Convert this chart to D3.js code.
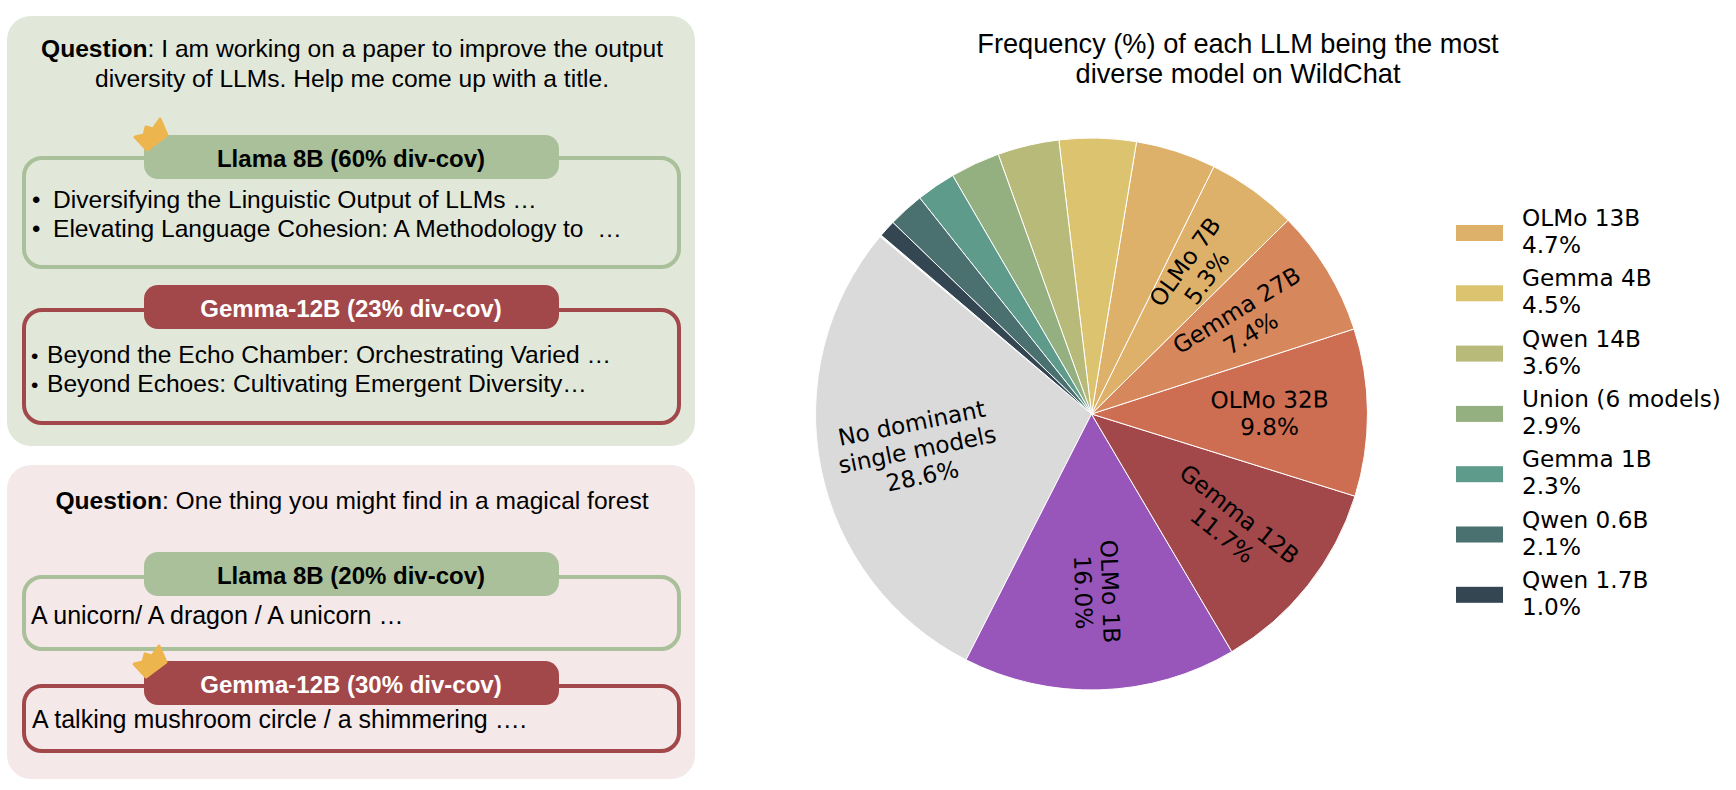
<!DOCTYPE html>
<html><head><meta charset="utf-8">
<script src="https://cdn.jsdelivr.net/npm/d3@7"></script>
<style>html,body{margin:0;padding:0;background:#fff}svg{display:block}
text{white-space:pre}</style></head><body><svg id="c" width="1736" height="790"></svg>
<script>
const categories=["No dominant\nsingle models","OLMo 1B","Gemma 12B","OLMo 32B","Gemma 27B","OLMo 7B","OLMo 13B","Gemma 4B","Qwen 14B","Union (6 models)","Gemma 1B","Qwen 0.6B","Qwen 1.7B"];
const values=[28.6,16.0,11.7,9.8,7.4,5.3,4.7,4.5,3.6,2.9,2.3,2.1,1.0];
const colors=["#dadada","#9856bb","#a2484b","#cd6e52","#d6875b","#ddb16a","#ddb16a","#dcc370","#b8ba7a","#95b080","#5f9b8b","#4a7070","#344652"];
const legendCategories=categories.slice(6);
const title=["Frequency (%) of each LLM being the most","diverse model on WildChat"];

const SANS="'Liberation Sans',Arial,sans-serif", DEJA="'DejaVu Sans',sans-serif";
const GREEN="#a9c09a", RED="#a2484b";
const svg=d3.select("#c");

function rrect(x0,y0,x1,y1,r,fill,stroke,sw){
  svg.append("rect").attr("x",x0).attr("y",y0).attr("width",x1-x0).attr("height",y1-y0).attr("rx",r).attr("ry",r)
    .attr("fill",fill).attr("stroke",stroke||"none").attr("stroke-width",sw||0);
}
function txt(x,y,parts,size,anchor){
  const t=svg.append("text").attr("x",x).attr("y",y).attr("font-family",SANS).attr("font-size",size).attr("text-anchor",anchor||"start").attr("fill","#000");
  parts.forEach(p=>t.append("tspan").attr("font-weight",p.b?"bold":"normal").attr("fill",p.c||"#000").text(p.t));
  return t;
}
function crown(dx,dy){
  svg.append("path").attr("transform",`translate(${dx},${dy})`)
   .attr("d","M135,137 L144,135 L146,127 L153,129 L160,119 L167,135 L147,150 Z")
   .attr("fill","#edb54d").attr("stroke","#edb54d").attr("stroke-width",3).attr("stroke-linejoin","round");
}
function card(oy0,oy1,py0,py1,color,label,labelColor){
  rrect(24,oy0,679,oy1,18,"none",color,4);
  rrect(144,py0,559,py1,14,color);
  txt(351,(py0+py1)/2+9.5,[{t:label,b:true,c:labelColor}],24,"middle");
}
const F=24.6;
rrect(7,16,695,446,24,"#e1e8da");
rrect(7,465,695,779,24,"#f4e8e8");

txt(352,57,[{t:"Question",b:true},{t:": I am working on a paper to improve the output"}],F,"middle");
txt(352,87,[{t:"diversity of LLMs. Help me come up with a title."}],F,"middle");
card(158,267,135,179,GREEN,"Llama 8B (60% div-cov)","#000");
crown(0,0);
txt(32,208,[{t:"•"}],24); txt(53,208,[{t:"Diversifying the Linguistic Output of LLMs …"}],F);
txt(32,237,[{t:"•"}],24); txt(53,237,[{t:"Elevating Language Cohesion: A Methodology to  …"}],F);
card(310,423,285,329,RED,"Gemma-12B (23% div-cov)","#fff");
txt(31,363,[{t:"•"}],21); txt(47,363,[{t:"Beyond the Echo Chamber: Orchestrating Varied …"}],F);
txt(31,392,[{t:"•"}],21); txt(47,392,[{t:"Beyond Echoes: Cultivating Emergent Diversity…"}],F);

txt(352,509,[{t:"Question",b:true},{t:": One thing you might find in a magical forest"}],F,"middle");
card(577,649,552,596,GREEN,"Llama 8B (20% div-cov)","#000");
txt(31,624,[{t:"A unicorn/ A dragon / A unicorn …"}],25);
card(686,751,661,705,RED,"Gemma-12B (30% div-cov)","#fff");
crown(-1,527);
txt(32,728,[{t:"A talking mushroom circle / a shimmering …."}],25);

// title
svg.append("g").selectAll("text").data(title).join("text")
 .attr("x",1238).attr("y",(d,i)=>53+i*30).attr("text-anchor","middle")
 .attr("font-family",SANS).attr("font-size",27.2).attr("fill","#000").text(d=>d);

// pie
const cx=1091.5, cy=414, R=276, startDeg=140, labelFrac=0.645, pieFont=23.2, lh=27;
const data=categories.map((c,i)=>({c,v:values[i],col:colors[i]}));
const toD3=a=>(90-a)*Math.PI/180;
const total=d3.sum(values);
const pie=d3.pie().value(d=>d.v).sort(null).startAngle(toD3(startDeg)).endAngle(toD3(startDeg+360*(total/100)));
const arc=d3.arc().innerRadius(0).outerRadius(R);
const arcs=pie(data);
const g=svg.append("g").attr("transform",`translate(${cx},${cy})`);
g.selectAll("path").data(arcs).join("path").attr("d",arc).attr("fill",d=>d.data.col).attr("stroke","#fff").attr("stroke-width",1);

const fmt=v=>v.toFixed(1)+"%";
const labelled=arcs.slice(0,6);
labelled.forEach(d=>{
  const mid=(d.startAngle+d.endAngle)/2;
  const x=Math.sin(mid)*R*labelFrac, y=-Math.cos(mid)*R*labelFrac;
  let rot=mid*180/Math.PI-90;
  rot=((rot%360)+360)%360;
  if(rot>90&&rot<270) rot-=180;
  const lines=d.data.c.split("\n").concat(fmt(d.data.v));
  const t=g.append("text").attr("transform",`translate(${x},${y}) rotate(${rot})`).attr("text-anchor","middle")
    .attr("font-family",DEJA).attr("font-size",pieFont).attr("fill","#000");
  lines.forEach((l,i)=>t.append("tspan").attr("x",0).attr("y",(i-(lines.length-1)/2)*lh+pieFont*0.36).text(l));
});

// legend
const ly=d3.scalePoint().domain(legendCategories).range([233,233+60.3*6]);
const lg=svg.append("g").selectAll("g").data(arcs.slice(6)).join("g");
lg.append("rect").attr("x",1456).attr("width",47).attr("height",16).attr("y",d=>ly(d.data.c)-8).attr("fill",d=>d.data.col);
lg.append("text").attr("x",1522).attr("y",d=>ly(d.data.c)-7).attr("font-family",DEJA).attr("font-size",pieFont).text(d=>d.data.c);
lg.append("text").attr("x",1522).attr("y",d=>ly(d.data.c)+20).attr("font-family",DEJA).attr("font-size",pieFont).text(d=>fmt(d.data.v));
</script></body></html>
